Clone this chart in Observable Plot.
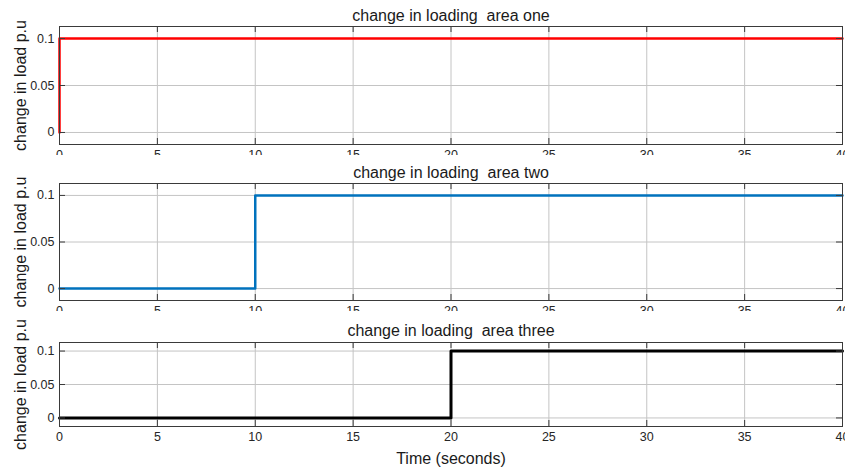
<!DOCTYPE html>
<html>
<head>
<meta charset="utf-8">
<script src="https://cdn.jsdelivr.net/npm/d3@7"></script>
<script src="https://cdn.jsdelivr.net/npm/@observablehq/plot@0.6"></script>
<style>
  html, body { margin: 0; padding: 0; background: #fff; }
  #chart { position: relative; width: 845px; height: 470px; background: #fff; overflow: hidden; }
  #chart svg { position: absolute; left: 0; overflow: hidden; }
</style>
</head>
<body>
<div id="chart"></div>
<script>
// ---- data ----
const titles = ["change in loading\u00a0 area one", "change in loading\u00a0 area two", "change in loading\u00a0 area three"];
const yLabel = "change in load p.u";
const xLabel = "Time (seconds)";
const colors = ["#ff0000", "#0072bd", "#000000"];

// step series (time in seconds, load change in p.u), drawn with step-after
const timeOne = [0, 0, 40];
const loadOne = [0, 0.1, 0.1];
const timeTwo = [0, 10, 40];
const loadTwo = [0, 0.1, 0.1];
const timeThree = [0, 20, 40];
const loadThree = [0, 0.1, 0.1];

const xTicks = [0, 5, 10, 15, 20, 25, 30, 35, 40];
const xTickLabels = ["0", "5", "10", "15", "20", "25", "30", "35", "40"];
const yTicks = [0, 0.05, 0.1];
const yTickLabels = ["0", "0.05", "0.1"];
const xDomain = [0, 40];
const yDomain = [-0.0128, 0.1128];

const series = [
  {time: timeOne, load: loadOne},
  {time: timeTwo, load: loadTwo},
  {time: timeThree, load: loadThree}
];

// ---- layout ----
const W = 845, ML = 59, MR = 3;
const layout = [
  {top: 0,   height: 155, mt: 26, mb: 11, titleDy: -11, sw: 2.5, xl: false},
  {top: 160, height: 151, mt: 23, mb: 11, titleDy: -11, sw: 2.5, xl: false},
  {top: 315, height: 155, mt: 27, mb: 44, titleDy: -12, sw: 3,   xl: true}
];
const FONT = "'Liberation Sans', Arial, Helvetica, sans-serif";
const gridColor = "#c4c4c4";
const boxColor = "#3a3a3a";

const chart = document.getElementById("chart");

series.forEach((s, i) => {
  const L = layout[i];
  const innerW = W - ML - MR;
  const innerH = L.height - L.mt - L.mb;
  const data = s.time.map((t, k) => ({t, v: s.load[k]}));
  const marks = [
    Plot.ruleX(xTicks, {x: d => d, stroke: gridColor, strokeWidth: 1}),
    Plot.ruleY(yTicks, {y: d => d, stroke: gridColor, strokeWidth: 1}),
    Plot.line(data, {x: "t", y: "v", curve: "step-after", stroke: colors[i], strokeWidth: L.sw}),
    // inward tick marks on all four sides (MATLAB style)
    Plot.tickX(xTicks, {x: d => d, insetTop: innerH - 6, stroke: boxColor}),
    Plot.tickX(xTicks, {x: d => d, insetBottom: innerH - 6, stroke: boxColor}),
    Plot.tickY(yTicks, {y: d => d, insetRight: innerW - 6, stroke: boxColor}),
    Plot.tickY(yTicks, {y: d => d, insetLeft: innerW - 6, stroke: boxColor}),
    Plot.frame({stroke: boxColor, strokeWidth: 1}),
    Plot.text([titles[i]], {text: d => d, frameAnchor: "top", dy: L.titleDy, lineAnchor: "middle", textAnchor: "middle", fontSize: 16, fill: "#1a1a1a"}),
    Plot.text([yLabel], {text: d => d, frameAnchor: "left", rotate: -90, dx: -39, textAnchor: "middle", lineAnchor: "middle", fontSize: 16, fill: "#1a1a1a"})
  ];
  if (L.xl) {
    marks.push(Plot.text([xLabel], {text: d => d, frameAnchor: "bottom", dy: 32, lineAnchor: "middle", textAnchor: "middle", fontSize: 16, fill: "#1a1a1a"}));
  }
  const svg = Plot.plot({
    width: W,
    height: L.height,
    marginLeft: ML,
    marginRight: MR,
    marginTop: L.mt,
    marginBottom: L.mb,
    style: {fontFamily: FONT, fontSize: "12.5px", color: "#262626", background: "transparent", overflow: "hidden"},
    x: {domain: xDomain, ticks: xTicks, tickSize: 0, tickPadding: 6, label: null,
        tickFormat: d => xTickLabels[xTicks.indexOf(d)]},
    y: {domain: yDomain, ticks: yTicks, tickSize: 0, tickPadding: 5, label: null,
        tickFormat: d => yTickLabels[yTicks.indexOf(d)]},
    marks
  });
  svg.style.top = L.top + "px";
  svg.style.position = "absolute";
  chart.appendChild(svg);
});
</script>
</body>
</html>
